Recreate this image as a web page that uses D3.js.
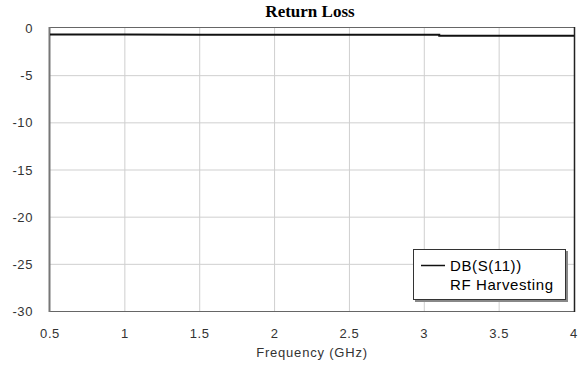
<!DOCTYPE html>
<html>
<head>
<meta charset="utf-8">
<script src="https://cdn.jsdelivr.net/npm/d3@7"></script>
<style>
  body { margin: 0; background: #fff; }
  svg { display: block; }
</style>
</head>
<body>
<script>
// data
const freqGHz = [0.5, 1.0, 1.5, 2.0, 2.5, 3.1, 3.1, 3.5, 4.0];
const s11dB = [-0.70, -0.70, -0.71, -0.71, -0.72, -0.72, -0.82, -0.82, -0.83];
const xTicks = [0.5, 1, 1.5, 2, 2.5, 3, 3.5, 4];
const yTicks = [0, -5, -10, -15, -20, -25, -30];
const legendLines = ['DB(S(11))', 'RF Harvesting'];

const W = 581, H = 365;
const margin = { top: 28, right: 7, bottom: 54, left: 50 };
const sans = 'Liberation Sans, Arial, sans-serif';

const svg = d3.select('body').append('svg')
  .attr('width', W)
  .attr('height', H);

const x = d3.scaleLinear().domain([0.5, 4]).range([margin.left, W - margin.right]);
const y = d3.scaleLinear().domain([-30, 0]).range([H - margin.bottom, margin.top]);

// grid
svg.append('g')
  .selectAll('line')
  .data(xTicks.slice(1, -1))
  .join('line')
  .attr('x1', d => x(d)).attr('x2', d => x(d))
  .attr('y1', y(0)).attr('y2', y(-30))
  .attr('stroke', '#cfcfcf')
  .attr('stroke-width', 1);

svg.append('g')
  .selectAll('line')
  .data(yTicks.slice(1, -1))
  .join('line')
  .attr('x1', x(0.5)).attr('x2', x(4))
  .attr('y1', d => y(d) + 0.5).attr('y2', d => y(d) + 0.5)
  .attr('stroke', '#cfcfcf')
  .attr('stroke-width', 1);

// plot frame
svg.append('line')
  .attr('x1', x(0.5)).attr('x2', x(4))
  .attr('y1', y(0) - 0.5).attr('y2', y(0) - 0.5)
  .attr('stroke', '#666').attr('stroke-width', 1);
svg.append('line')
  .attr('x1', x(0.5)).attr('x2', x(4))
  .attr('y1', y(-30) + 0.5).attr('y2', y(-30) + 0.5)
  .attr('stroke', '#666').attr('stroke-width', 1);
svg.append('line')
  .attr('x1', x(0.5) - 0.5).attr('x2', x(0.5) - 0.5)
  .attr('y1', y(0) - 1).attr('y2', y(-30) + 1)
  .attr('stroke', '#777').attr('stroke-width', 2);
svg.append('line')
  .attr('x1', x(4) + 0.5).attr('x2', x(4) + 0.5)
  .attr('y1', y(0) - 1).attr('y2', y(-30) + 1)
  .attr('stroke', '#222').attr('stroke-width', 1.5);

// tick labels
svg.append('g')
  .selectAll('text')
  .data(yTicks)
  .join('text')
  .attr('x', 33)
  .attr('y', d => y(d) + 5)
  .attr('text-anchor', 'end')
  .attr('font-family', sans)
  .attr('font-size', 13)
  .attr('letter-spacing', 0.6)
  .attr('fill', '#333')
  .text(d => d);

svg.append('g')
  .selectAll('text')
  .data(xTicks)
  .join('text')
  .attr('x', d => x(d))
  .attr('y', 338)
  .attr('text-anchor', 'middle')
  .attr('font-family', sans)
  .attr('font-size', 13)
  .attr('letter-spacing', 0.6)
  .attr('fill', '#333')
  .text(d => d);

// titles
svg.append('text')
  .attr('x', 310)
  .attr('y', 17)
  .attr('text-anchor', 'middle')
  .attr('font-family', 'Liberation Serif, Times New Roman, serif')
  .attr('font-weight', 'bold')
  .attr('font-size', 17)
  .attr('fill', '#000')
  .text('Return Loss');

svg.append('text')
  .attr('x', 312)
  .attr('y', 357)
  .attr('text-anchor', 'middle')
  .attr('font-family', sans)
  .attr('font-size', 13)
  .attr('letter-spacing', 0.8)
  .attr('fill', '#333')
  .text('Frequency (GHz)');

// the trace
const pts = freqGHz.map((f, i) => [f, s11dB[i]]);
svg.append('path')
  .datum(pts)
  .attr('fill', 'none')
  .attr('stroke', '#111')
  .attr('stroke-width', 2)
  .attr('d', d3.line().x(d => x(d[0])).y(d => y(d[1])));

// legend
const lg = svg.append('g').attr('transform', 'translate(413, 249)');
lg.append('rect')
  .attr('x', 2).attr('y', 2)
  .attr('width', 153).attr('height', 51)
  .attr('fill', '#888');
lg.append('rect')
  .attr('x', 0.5).attr('y', 0.5)
  .attr('width', 152).attr('height', 50)
  .attr('fill', '#fff')
  .attr('stroke', '#333')
  .attr('stroke-width', 1);
lg.append('line')
  .attr('x1', 8).attr('x2', 32)
  .attr('y1', 16.5).attr('y2', 16.5)
  .attr('stroke', '#111')
  .attr('stroke-width', 1.5);
lg.selectAll('text')
  .data(legendLines)
  .join('text')
  .attr('x', 37)
  .attr('y', (d, i) => 22 + i * 19)
  .attr('font-family', sans)
  .attr('font-size', 15)
  .attr('letter-spacing', 0.6)
  .attr('fill', '#000')
  .text(d => d);
</script>
</body>
</html>
